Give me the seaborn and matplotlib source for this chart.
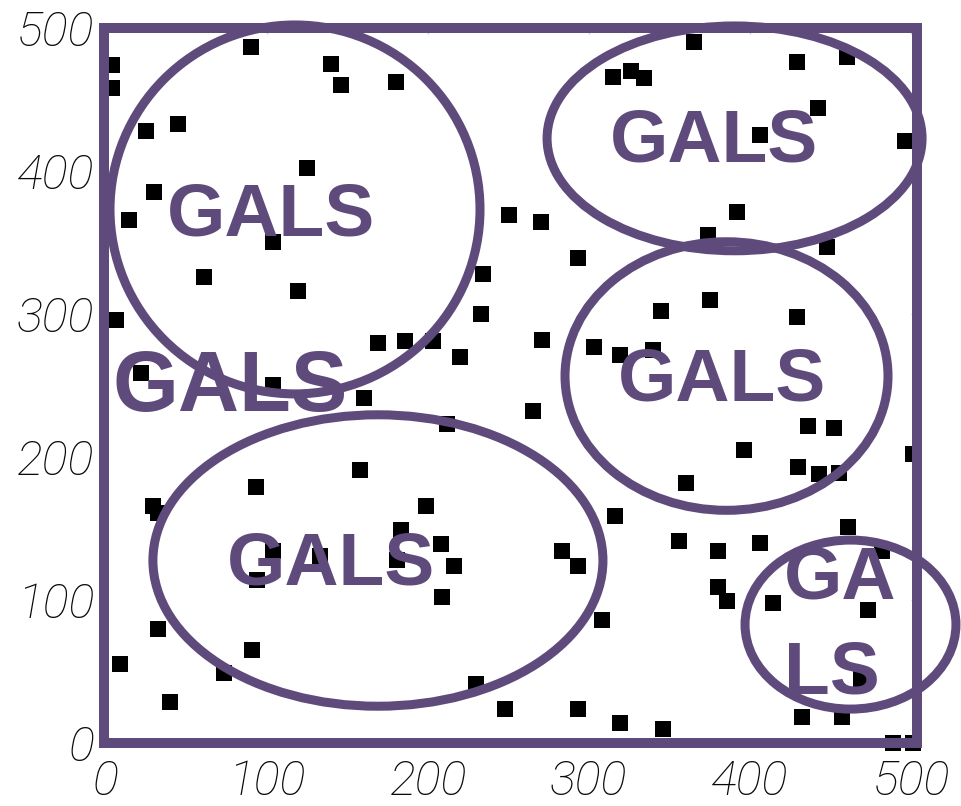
import matplotlib
matplotlib.use("Agg")
import matplotlib.pyplot as plt
from matplotlib.patches import Ellipse
import seaborn as sns
import pandas as pd

# ---- data ----
x_vals = [4, 4, 90, 140, 146, 180, 25, 45, 125, 30, 14, 104, 61, 119, 6,
          169, 186, 203, 220, 22, 104, 160, 234, 233,
          365, 315, 326, 334, 429, 460, 442, 406, 496, 250, 270, 392, 374, 448,
          293, 345, 375, 429, 271, 303, 319, 340,
          212, 158, 93, 29, 32, 199, 183, 208, 216, 209, 181, 104, 94, 32, 91,
          9, 73, 40, 230, 133,
          265, 436, 452, 396, 501, 430, 443, 455, 360, 316, 461, 356, 406, 380,
          482, 283, 293, 380, 386, 414, 473, 308, 469, 248, 293, 319, 346, 432,
          457, 489, 501]
y_vals = [474, 458, 487, 475, 460, 462, 428, 433, 402, 385, 366, 350, 326, 316, 296,
          280, 281, 281, 270, 259, 250, 241, 328, 300,
          490, 466, 470, 465, 476, 480, 444, 425, 421, 369, 364, 371, 355, 347,
          339, 302, 310, 298, 282, 277, 271, 275,
          223, 191, 179, 166, 161, 166, 149, 139, 124, 102, 128, 134, 114, 80, 65,
          55, 49, 29, 41, 131,
          232, 222, 220, 205, 202, 193, 188, 189, 182, 159, 151, 141, 140, 134,
          134, 134, 124, 109, 99, 98, 93, 86, 45, 24, 24, 14, 10, 18,
          18, 0, 0]

tick_vals = [0, 100, 200, 300, 400, 500]
tick_labels = ["0", "100", "200", "300", "400", "500"]

# annotation groups (ellipses) and their labels
group_cx = [117.4, 390.4, 385.4, 168.9, 462.4]
group_cy = [373.1, 422.8, 256.6, 127.6, 82.8]
group_w = [229.8, 232.9, 200.6, 279.5, 131.0]
group_h = [258.0, 157.2, 187.8, 203.8, 118.2]

label_texts = ["GALS", "GALS", "GALS", "GALS", "GALS", "GA\nLS"]
label_x = [102.8, 77.0, 377.6, 382.9, 139.8, 421.0]
label_y = [354.7, 232.3, 406.8, 239.2, 110.6, 34.8]
label_size = [54, 61, 54, 54, 54, 54]
label_ha = ["center", "center", "center", "center", "center", "left"]

PURPLE = "#5f4a7c"

df = pd.DataFrame({"x": x_vals, "y": y_vals})

sns.set_style("white")
plt.rcParams["font.family"] = ["Liberation Sans", "DejaVu Sans"]

fig = plt.figure(figsize=(9.61, 8.06), dpi=100)
ax = fig.add_axes([0.1082, 0.0782, 0.8460, 0.8871])

sns.scatterplot(data=df, x="x", y="y", marker="s", s=117, color="black",
                linewidth=0, ax=ax, clip_on=False, zorder=1, legend=False)

for cx, cy, w, h in zip(group_cx, group_cy, group_w, group_h):
    ax.add_patch(Ellipse((cx, cy), w, h, fill=False, edgecolor=PURPLE,
                         linewidth=6.5, clip_on=False, zorder=3))

for t, x, y, fs, ha in zip(label_texts, label_x, label_y, label_size, label_ha):
    ax.text(x, y, t, ha=ha, va="baseline", fontsize=fs, fontweight="bold",
            color=PURPLE, zorder=4, clip_on=False, linespacing=1.47,
            multialignment="left")

ax.set_xlim(-1.24, 503.7)
ax.set_ylim(2.1, 499.3)
ax.set_xticks(tick_vals)
ax.set_xticklabels(tick_labels)
ax.set_yticks(tick_vals)
ax.set_yticklabels(tick_labels)
ax.set_xlabel("")
ax.set_ylabel("")

for side in ["left", "right", "top", "bottom"]:
    ax.spines[side].set_visible(True)
    ax.spines[side].set_color(PURPLE)
    ax.spines[side].set_linewidth(7.2)
    ax.spines[side].set_zorder(2.5)

ax.tick_params(axis="both", direction="in", length=4, width=1,
               color="#cccccc", top=True, right=True,
               labelsize=35, labelcolor="#0a0a0a")
ax.tick_params(axis="x", pad=11)
ax.tick_params(axis="y", pad=7)
for lab in ax.get_xticklabels() + ax.get_yticklabels():
    lab.set_fontstyle("italic")
    lab.set_family(["Roboto", "Liberation Sans", "DejaVu Sans"])
    lab.set_fontweight("light")

fig.savefig("out.png", dpi=100)
